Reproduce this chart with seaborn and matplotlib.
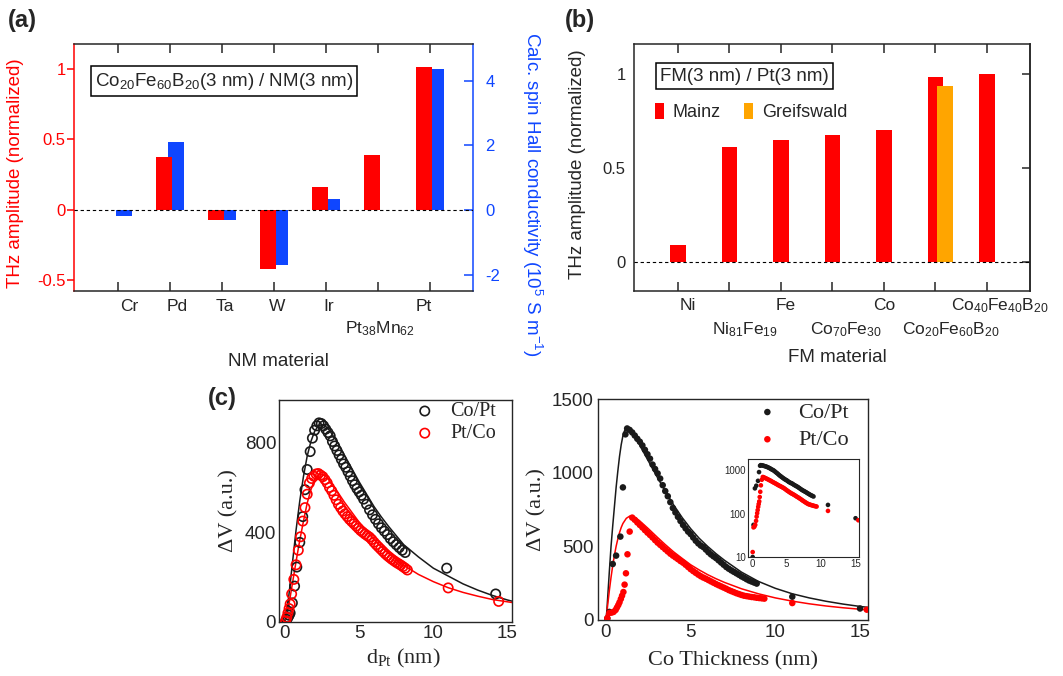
import numpy as np
import pandas as pd
import matplotlib
matplotlib.use("Agg")
import matplotlib.pyplot as plt
import matplotlib.transforms as mtransforms
from matplotlib.patches import Patch
from matplotlib.collections import PathCollection
from matplotlib.ticker import NullLocator
import seaborn as sns

sns.set_style("white")
plt.rcParams['font.family'] = ['Liberation Sans', 'DejaVu Sans']
plt.rcParams['mathtext.default'] = 'regular'
plt.rcParams['axes.linewidth'] = 1.1
SERIF = ['Liberation Serif', 'DejaVu Serif']

RED = '#ff0000'
BLUE = '#0f46ff'
ORANGE = '#ffa500'
BLK = '#1a1a1a'

# ---------------- data (a) ----------------
nm_materials = ["Cr", "Pd", "Ta", "W", "Ir", "Pt$_{38}$Mn$_{62}$", "Pt"]
thz_nm = [0.0, 0.375, -0.075, -0.417, 0.161, 0.391, 1.012]
shc_nm = [-0.18, 2.09, -0.31, -1.71, 0.33, np.nan, 4.36]
nm_label_row = [1, 1, 1, 1, 1, 2, 1]

# ---------------- data (b) ----------------
fm_materials = ["Ni", "Ni$_{81}$Fe$_{19}$", "Fe", "Co$_{70}$Fe$_{30}$", "Co",
                "Co$_{20}$Fe$_{60}$B$_{20}$", "Co$_{40}$Fe$_{40}$B$_{20}$"]
thz_mainz = [0.092, 0.612, 0.651, 0.678, 0.703, 0.984, 1.0]
thz_greifswald = [np.nan, np.nan, np.nan, np.nan, np.nan, 0.936, np.nan]
fm_label_row = [1, 2, 1, 2, 1, 2, 1]

# ---------------- data (c) left: d_Pt ----------------
copt_dpt_x = [0.05, 0.12, 0.2, 0.28, 0.35, 0.5, 0.65, 0.8, 1.0, 1.2, 1.35, 1.5, 1.7, 1.85,
              2.0, 2.15, 2.3, 2.45, 2.6, 2.75, 2.9, 3.05, 3.2, 3.35, 3.5, 3.65, 3.8, 3.95,
              4.1, 4.25, 4.4, 4.55, 4.7, 4.85, 5.0, 5.15, 5.3, 5.5, 5.7, 5.9, 6.1, 6.3,
              6.5, 6.7, 6.9, 7.1, 7.3, 7.5, 7.7, 7.9, 8.1, 10.9, 14.2]
copt_dpt_y = [5, 12, 20, 30, 40, 85, 160, 245, 355, 470, 590, 680, 760, 820,
              855, 875, 888, 885, 875, 860, 845, 830, 805, 785, 765, 745, 725, 705,
              690, 670, 650, 630, 612, 595, 580, 565, 548, 525, 500, 478, 458, 438,
              420, 405, 390, 372, 358, 345, 332, 320, 310, 240, 125]
ptco_dpt_x = [0.05, 0.12, 0.2, 0.28, 0.35, 0.45, 0.6, 0.75, 0.9, 1.05, 1.2, 1.35, 1.5, 1.65,
              1.8, 1.95, 2.1, 2.25, 2.4, 2.55, 2.7, 2.85, 3.0, 3.15, 3.3, 3.45, 3.6, 3.75,
              3.9, 4.05, 4.2, 4.35, 4.5, 4.65, 4.8, 4.95, 5.1, 5.25, 5.4, 5.55, 5.7, 5.85,
              6.0, 6.15, 6.3, 6.45, 6.6, 6.75, 6.9, 7.05, 7.2, 7.35, 7.5, 7.65, 7.8, 7.95,
              8.1, 8.25, 11.0, 14.4]
ptco_dpt_y = [5, 20, 40, 60, 80, 125, 190, 255, 320, 380, 450, 510, 570, 620,
              640, 650, 660, 662, 655, 648, 635, 620, 600, 585, 565, 545, 525, 510,
              495, 482, 470, 458, 448, 438, 428, 418, 408, 400, 392, 385, 378, 368,
              356, 345, 335, 325, 315, 305, 296, 288, 280, 273, 266, 260, 254, 247,
              240, 232, 152, 92]
fit_dpt_x = [0, 0.25, 0.5, 0.75, 1.0, 1.25, 1.5, 1.75, 2.0, 2.25, 2.5, 2.75, 3.0, 3.5,
             4.0, 4.5, 5.0, 5.5, 6.0, 6.5, 7.0, 7.5, 8.0, 9.0, 10.0, 11.0, 12.0, 13.0,
             14.0, 15.0, 15.3]
fit_copt_dpt_y = [0, 110, 260, 410, 540, 650, 740, 805, 850, 875, 880, 872, 855, 805,
                  745, 685, 625, 570, 515, 468, 425, 385, 345, 290, 240, 205, 170, 142,
                  118, 98, 93]
fit_ptco_dpt_y = [0, 70, 170, 270, 365, 450, 530, 590, 635, 655, 660, 650, 630, 585,
                  535, 490, 445, 405, 368, 335, 305, 278, 253, 212, 180, 153, 132, 115,
                  100, 90, 87]

# ---------------- data (c) right: Co thickness ----------------
copt_co_x = [0.08, 0.2, 0.4, 0.6, 0.85, 1.0, 1.15,
             1.25, 1.4, 1.55, 1.7, 1.85, 2.0, 2.15, 2.3, 2.45, 2.6, 2.75, 2.9, 3.05, 3.2,
             3.35, 3.5, 3.65, 3.8, 3.95, 4.1, 4.25, 4.4, 4.55, 4.7, 4.85, 5.0, 5.15, 5.3,
             5.45, 5.6, 5.75, 5.9, 6.05, 6.2, 6.35, 6.5, 6.65, 6.8, 6.95, 7.1, 7.25, 7.4,
             7.55, 7.7, 7.85, 8.0, 8.15, 8.3, 8.45, 8.6, 8.75, 8.9, 11.0, 15.0]
copt_co_y = [10, 55, 380, 437, 566, 900, 1260,
             1300, 1290, 1273, 1252, 1230, 1210, 1185, 1155, 1125, 1095, 1055, 1025, 995, 960,
             915, 875, 840, 800, 760, 730, 700, 672, 645, 622, 600, 583, 560, 538,
             520, 505, 495, 478, 460, 445, 432, 420, 405, 390, 375, 360, 348, 337,
             327, 317, 307, 296, 287, 277, 268, 261, 254, 247, 158, 78]
ptco_co_x = [0.08, 0.2, 0.33, 0.45, 0.57, 0.65, 0.73, 0.8, 0.88, 0.95, 1.03, 1.1, 1.18,
             1.27, 1.4, 1.55, 1.7, 1.85, 2.0, 2.15, 2.3, 2.45, 2.6, 2.75, 2.9, 3.05, 3.2,
             3.35, 3.5, 3.65, 3.8, 3.95, 4.1, 4.25, 4.4, 4.55, 4.7, 4.85, 5.0, 5.15, 5.3,
             5.45, 5.6, 5.75, 5.9, 6.05, 6.2, 6.35, 6.5, 6.65, 6.8, 6.95, 7.1, 7.25, 7.4,
             7.55, 7.7, 7.85, 8.0, 8.15, 8.3, 8.45, 8.6, 8.75, 8.9, 9.05, 9.2, 9.35,
             11.0, 15.4]
ptco_co_y = [13, 48, 50, 55, 68, 85, 102, 120, 143, 165, 190, 240, 317,
             446, 600, 695, 680, 662, 645, 628, 610, 593, 577, 560, 542, 525, 510,
             495, 480, 465, 450, 437, 425, 413, 400, 389, 375, 360, 345, 332, 320,
             308, 297, 288, 280, 271, 262, 253, 244, 236, 228, 220, 212, 203, 196,
             189, 182, 176, 170, 165, 162, 159, 156, 154, 151, 149, 147, 145,
             115, 70]
fit_copt_co_x = [0, 0.05, 0.1, 0.2, 0.3, 0.4, 0.5, 0.6, 0.7, 0.8, 0.9, 1.0, 1.1, 1.2, 1.35,
                 1.5, 1.75, 2.0, 2.5, 3.0, 3.5, 4.0, 4.5, 5.0, 5.5, 6.0, 6.5, 7.0, 8.0, 9.0,
                 10.0, 11.0, 12.0, 13.0, 14.0, 15.0, 15.45]
fit_copt_co_y = [0, 60, 150, 330, 500, 640, 770, 900, 1010, 1110, 1190, 1250, 1285, 1300, 1298,
                 1280, 1235, 1185, 1080, 975, 875, 780, 695, 620, 555, 500, 450, 405, 325, 262,
                 215, 178, 150, 127, 108, 92, 86]
fit_ptco_co_x = [0, 0.05, 0.1, 0.2, 0.3, 0.4, 0.5, 0.6, 0.7, 0.8, 0.9, 1.0, 1.2, 1.4, 1.6,
                 1.8, 2.0, 2.5, 3.0, 3.5, 4.0, 4.5, 5.0, 5.5, 6.0, 6.5, 7.0, 8.0, 9.0, 10.0,
                 11.0, 12.0, 13.0, 14.0, 15.0, 15.45]
fit_ptco_co_y = [0, 50, 100, 200, 290, 370, 440, 500, 550, 593, 628, 655, 690, 705, 703,
                 690, 672, 620, 565, 512, 462, 418, 375, 340, 308, 280, 255, 212, 178, 150,
                 128, 110, 95, 83, 73, 69]

# ---------------- figure ----------------
W, H = 1063, 676
fig = plt.figure(figsize=(W / 100, H / 100), dpi=100)


def px_axes(x0, y0, x1, y1):
    return fig.add_axes([x0 / W, 1 - y1 / H, (x1 - x0) / W, (y1 - y0) / H])


def points_of(ax):
    return [c for c in ax.collections if isinstance(c, PathCollection)]


# ===== (a) =====
axA = px_axes(74, 44, 473, 291)
axA2 = axA.twinx()
idx = np.arange(len(nm_materials))
sns.barplot(x=idx - 0.12, y=thz_nm, native_scale=True, orient='x', width=0.31,
            color=RED, saturation=1, errorbar=None, linewidth=0, ax=axA)
sns.barplot(x=idx + 0.12, y=shc_nm, native_scale=True, orient='x', width=0.31,
            color=BLUE, saturation=1, errorbar=None, linewidth=0, ax=axA2)
axA.set_zorder(axA2.get_zorder() + 1)
axA.patch.set_visible(False)
axA.axhline(0, color='k', lw=0.8, ls=(0, (3, 2.5)), zorder=5)
axA.set_xlim(-0.846, 6.83)
axA.set_ylim(-0.575, 1.175)
axA2.set_ylim(-2.51, 5.14)
axA.set_yticks([-0.5, 0, 0.5, 1])
axA.set_yticklabels(['-0.5', '0', '0.5', '1'])
axA2.set_yticks([-2, 0, 2, 4])
axA2.set_yticklabels(['-2', '0', '2', '4'])
axA.set_xticks(idx)
axA.set_xticklabels([])
axA.tick_params(axis='x', direction='in', length=6.5, width=1.1, top=True, bottom=True)
axA.tick_params(axis='y', colors=RED, direction='out', length=5, width=1.1, pad=1, labelsize=12)
axA2.tick_params(axis='y', colors=BLUE, direction='in', length=6.5, width=1.1, pad=9, labelsize=12)
axA.spines['left'].set_color(RED)
axA.spines['right'].set_visible(False)
axA2.spines['left'].set_visible(False)
axA2.spines['right'].set_color(BLUE)
for s in ['top', 'bottom']:
    axA2.spines[s].set_visible(False)
axA.set_xlabel('')
axA2.set_xlabel('')
axA.set_ylabel('THz amplitude (normalized)', color=RED, fontsize=13.5)
axA.yaxis.set_label_coords(-0.125, 0.478)
axA2.set_ylabel('Calc. spin Hall conductivity (10$^{5}$ S m$^{-1}$)', color=BLUE,
                fontsize=13.5, rotation=270, va='center')
axA2.yaxis.set_label_coords(1.148, 0.39)
nm_off = [0.21, 0.13, 0.06, 0.06, 0.06, 0.04, -0.12]
trA = mtransforms.blended_transform_factory(axA.transData, axA.transAxes)
for i, (lab, row) in enumerate(zip(nm_materials, nm_label_row)):
    axA.text(i + nm_off[i], -0.081 if row == 1 else -0.170, lab, transform=trA,
             ha='center', va='baseline', fontsize=12.5)
axA.text(0.376, 0.85, 'Co$_{20}$Fe$_{60}$B$_{20}$(3 nm) / NM(3 nm)', transform=axA.transAxes,
         ha='center', va='center', fontsize=13.5,
         bbox=dict(boxstyle='square,pad=0.22', fc='white', ec='black', lw=1.1), zorder=6)

# ===== (b) =====
axB = px_axes(634, 44, 1030, 291)
idb = np.arange(len(fm_materials))
sns.barplot(x=idb, y=thz_mainz, native_scale=True, orient='x', width=0.31,
            color=RED, saturation=1, errorbar=None, linewidth=0, ax=axB)
sns.barplot(x=idb + 0.19, y=thz_greifswald, native_scale=True, orient='x', width=0.31,
            color=ORANGE, saturation=1, errorbar=None, linewidth=0, ax=axB)
axB.axhline(0, color='k', lw=0.8, ls=(0, (3, 2.5)), zorder=5)
axB.set_xlim(-0.854, 6.835)
axB.set_ylim(-0.154, 1.16)
axB.set_yticks([0, 0.5, 1])
axB.set_yticklabels(['0', '0.5', '1'])
axB.set_xticks(idb)
axB.set_xticklabels([])
axB.tick_params(axis='x', direction='in', length=6.5, width=1.1, top=True, bottom=True)
axB.tick_params(axis='y', direction='out', length=5, width=1.1, pad=1, labelsize=12)
secB = axB.secondary_yaxis('right')
secB.set_yticks([0, 0.5, 1])
secB.tick_params(axis='y', direction='in', length=5.5, width=1.1, labelright=False)
axB.set_xlabel('')
axB.set_ylabel('THz amplitude (normalized)', fontsize=13.5)
axB.yaxis.set_label_coords(-0.121, 0.514)
fm_off = [0.19, 0.31, 0.10, 0.27, 0.0, 0.29, 0.25]
trB = mtransforms.blended_transform_factory(axB.transData, axB.transAxes)
for i, (lab, row) in enumerate(zip(fm_materials, fm_label_row)):
    axB.text(i + fm_off[i], -0.077 if row == 1 else -0.174, lab, transform=trB,
             ha='center', va='baseline', fontsize=12.5)
axB.text(0.278, 0.87, 'FM(3 nm) / Pt(3 nm)', transform=axB.transAxes,
         ha='center', va='center', fontsize=13.5,
         bbox=dict(boxstyle='square,pad=0.22', fc='white', ec='black', lw=1.1), zorder=6)
axB.legend([Patch(fc=RED, ec='none'), Patch(fc=ORANGE, ec='none')], ['Mainz', 'Greifswald'],
           ncol=2, frameon=False, loc='center left', bbox_to_anchor=(0.052, 0.725),
           handlelength=0.5, handleheight=1.0, handletextpad=0.5, columnspacing=1.3,
           fontsize=13, borderaxespad=0, borderpad=0)

# ===== (c) left =====
axC = px_axes(279, 400, 512, 622)
sns.lineplot(x=fit_dpt_x, y=fit_copt_dpt_y, color=BLK, lw=1.1, errorbar=None, ax=axC)
sns.lineplot(x=fit_dpt_x, y=fit_ptco_dpt_y, color=RED, lw=1.1, errorbar=None, ax=axC)
sns.scatterplot(x=copt_dpt_x, y=copt_dpt_y, color=BLK, edgecolor=BLK, s=45,
                linewidth=1.2, ax=axC, zorder=3)
sns.scatterplot(x=ptco_dpt_x, y=ptco_dpt_y, color=RED, edgecolor=RED, s=45,
                linewidth=1.2, ax=axC, zorder=3)
ptsC = points_of(axC)
for coll in ptsC:
    coll.set_facecolor('none')
axC.set_xlim(-0.4, 15.3)
axC.set_ylim(0, 990)
axC.set_xticks([0, 5, 10, 15])
axC.set_yticks([0, 400, 800])
axC.tick_params(direction='in', length=3.5, width=1, pad=2, labelsize=13.5)
axC.set_xlabel('d$_{Pt}$ (nm)', family=SERIF, fontsize=16)
axC.set_ylabel('\u0394V (a.u.)', family=SERIF, fontsize=16)
axC.xaxis.set_label_coords(0.532, -0.113)
axC.yaxis.set_label_coords(-0.176, 0.504)
axC.legend(handles=ptsC, labels=['Co/Pt', 'Pt/Co'], loc='upper right',
           bbox_to_anchor=(0.93, 0.99), frameon=False, prop=dict(family=SERIF, size=14.5),
           handlelength=1.0, handletextpad=0.75, labelspacing=0.15,
           borderaxespad=0, borderpad=0)
for s in axC.spines.values():
    s.set_linewidth(1.0)

# ===== (c) right =====
axD = px_axes(598, 399, 868, 620)
sns.lineplot(x=fit_copt_co_x, y=fit_copt_co_y, color=BLK, lw=1.1, errorbar=None, ax=axD)
sns.lineplot(x=fit_ptco_co_x, y=fit_ptco_co_y, color=RED, lw=1.1, errorbar=None, ax=axD)
sns.scatterplot(x=copt_co_x, y=copt_co_y, color=BLK, edgecolor='none', s=22,
                ax=axD, zorder=3)
sns.scatterplot(x=ptco_co_x, y=ptco_co_y, color=RED, edgecolor='none', s=22,
                ax=axD, zorder=3)
ptsD = points_of(axD)
axD.set_xlim(-0.47, 15.47)
axD.set_ylim(0, 1500)
axD.set_xticks([0, 5, 10, 15])
axD.set_yticks([0, 500, 1000, 1500])
axD.tick_params(direction='in', length=3.5, width=1, pad=3, labelsize=13.5)
axD.set_xlabel('Co Thickness (nm)', family=SERIF, fontsize=16)
axD.set_ylabel('\u0394V (a.u.)', family=SERIF, fontsize=16)
axD.xaxis.set_label_coords(0.5, -0.14)
axD.yaxis.set_label_coords(-0.189, 0.498)
axD.legend(handles=ptsD, labels=['Co/Pt', 'Pt/Co'], loc='upper right',
           bbox_to_anchor=(0.93, 0.985), frameon=False, prop=dict(family=SERIF, size=16),
           handlelength=1.0, handletextpad=0.9, labelspacing=0.3,
           borderaxespad=0, borderpad=0)
for s in axD.spines.values():
    s.set_linewidth(1.0)

# inset
axI = px_axes(748, 459, 859, 557)
sns.scatterplot(x=copt_co_x, y=copt_co_y, color=BLK, edgecolor='none', s=11, ax=axI, zorder=3)
sns.scatterplot(x=ptco_co_x, y=ptco_co_y, color=RED, edgecolor='none', s=11, ax=axI, zorder=3)
axI.set_yscale('log')
axI.set_ylim(10, 1800)
axI.set_xlim(-0.6, 15.5)
axI.set_yticks([10, 100, 1000])
axI.set_yticklabels(['10', '100', '1000'])
axI.yaxis.set_minor_locator(NullLocator())
axI.set_xticks([0, 5, 10, 15])
axI.tick_params(direction='in', length=2, width=0.8, pad=1.5, labelsize=7)
axI.set_xlabel('')
axI.set_ylabel('')
for s in axI.spines.values():
    s.set_linewidth(0.8)

# figure texts
fig.text(8 / W, 1 - 20 / H, '(a)', ha='left', va='center', fontsize=17, weight='bold')
fig.text(565 / W, 1 - 20 / H, '(b)', ha='left', va='center', fontsize=17, weight='bold')
fig.text(208 / W, 1 - 398 / H, '(c)', ha='left', va='center', fontsize=17, weight='bold')
fig.text(278 / W, 1 - 362 / H, 'NM material', ha='center', va='center', fontsize=13.5)
fig.text(837 / W, 1 - 358 / H, 'FM material', ha='center', va='center', fontsize=13.5)

fig.savefig('out.png', dpi=100)
